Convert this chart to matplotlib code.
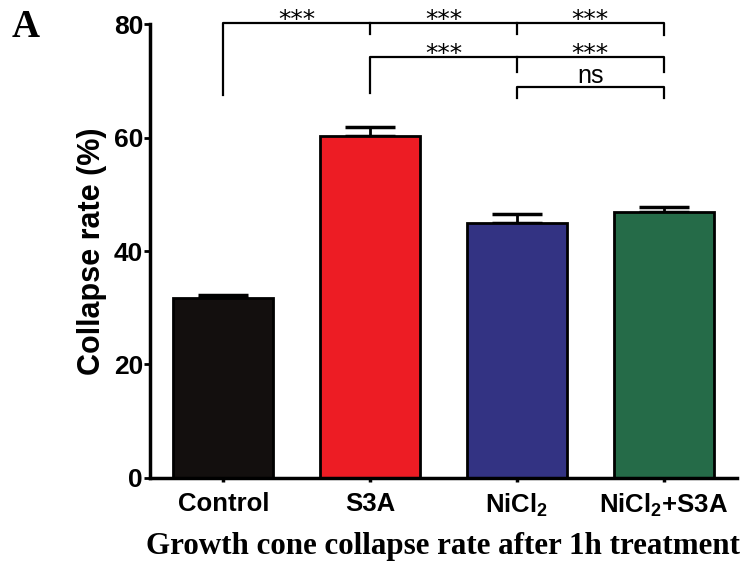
import numpy as np
import matplotlib.pyplot as plt

plt.rcParams['font.family'] = 'Liberation Sans'
plt.rcParams['mathtext.fontset'] = 'custom'
plt.rcParams['mathtext.rm'] = 'Liberation Sans:bold'
plt.rcParams['mathtext.bf'] = 'Liberation Sans:bold'

groups = ['Control', 'S3A', r'NiCl$_\mathbf{2}$', r'NiCl$_\mathbf{2}$+S3A']
rates = [31.8, 60.3, 44.9, 46.9]
sem = [0.4, 1.6, 1.6, 0.8]
colors = ['#130f0e', '#ed1c24', '#333383', '#256b48']

# significance brackets: (left, right, height, label)
brackets = [(0, 1, 80.2, '***'), (1, 2, 80.2, '***'), (2, 3, 80.2, '***'),
            (1, 2, 74.2, '***'), (2, 3, 74.2, '***'), (2, 3, 68.9, 'ns')]

fig = plt.figure(figsize=(7.44, 5.65), dpi=100)
ax = fig.add_axes([0.2016, 0.154, 0.789, 0.8035])

x = np.arange(len(groups))
ax.bar(x, rates, width=0.68, color=colors, edgecolor='black', linewidth=2, zorder=2)
ax.errorbar(x, rates, yerr=[np.zeros(len(sem)), sem], fmt='none', ecolor='black',
            elinewidth=2, capsize=18, capthick=2.5, zorder=1)

ax.set_xlim(-0.5, 3.5)
ax.set_ylim(0, 80)
ax.set_yticks([0, 20, 40, 60, 80])
ax.set_xticks(x)
ax.set_xticklabels(groups, fontsize=18.5, fontweight='bold')
for lab in ax.get_yticklabels():
    lab.set_fontsize(19)
    lab.set_fontweight('bold')
ax.spines['top'].set_visible(False)
ax.spines['right'].set_visible(False)
ax.spines['left'].set_linewidth(2.5)
ax.spines['bottom'].set_linewidth(2.5)
ax.tick_params(axis='y', length=4, width=2, pad=1)
ax.tick_params(axis='x', length=3, width=2.5, pad=7)

ax.set_ylabel('Collapse rate (%)', fontsize=22, fontweight='bold', labelpad=5)
ax.set_xlabel('Growth cone collapse rate after 1h treatment', fontsize=22.3,
              fontweight='bold', family='Liberation Serif', labelpad=9)

# brackets
lw = 1.6
ax.plot([0, 0, 3, 3], [67.5, 80.2, 80.2, 78.0], color='black', lw=lw, clip_on=False)
ax.plot([1, 1], [80.2, 78.2], color='black', lw=lw, clip_on=False)
ax.plot([2, 2], [80.2, 78.2], color='black', lw=lw, clip_on=False)
ax.plot([1, 1, 3, 3], [67.9, 74.2, 74.2, 71.6], color='black', lw=lw, clip_on=False)
ax.plot([2, 2], [74.2, 71.6], color='black', lw=lw, clip_on=False)
ax.plot([2, 2, 3, 3], [67.0, 68.9, 68.9, 67.0], color='black', lw=lw, clip_on=False)
for a, b, h, t in brackets:
    if t == 'ns':
        ax.text((a + b) / 2, h + 0.7, t, ha='center', va='baseline', fontsize=18, clip_on=False)
    else:
        ax.text((a + b) / 2, h - 0.8, t, ha='center', va='baseline', fontsize=18,
                family='DejaVu Sans', clip_on=False)

fig.text(0.016, 0.935, 'A', fontsize=28, fontweight='bold', family='Liberation Serif')

plt.savefig('out.png', dpi=100)
